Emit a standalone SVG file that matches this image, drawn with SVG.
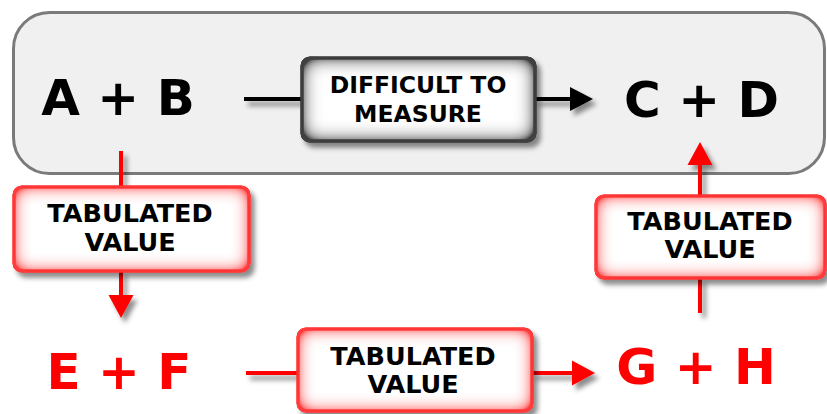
<svg xmlns="http://www.w3.org/2000/svg" width="827" height="414" viewBox="0 0 827 414">
  <style>
    .big { font-family: "DejaVu Sans", Verdana, sans-serif; font-weight: bold; font-size: 50px; text-anchor: middle; }
    .lbl { font-family: "DejaVu Sans", Verdana, sans-serif; font-weight: bold; font-size: 25.5px; text-anchor: middle; fill: #000; }
    .lbl-sm { font-size: 23.5px; }
    .red-box { fill: #ffffff; stroke: #ff0000; stroke-width: 3; }
    .gray-box { fill: #ffffff; stroke: #000000; stroke-width: 3; }
    .wire-red { stroke: #ff0000; stroke-width: 4; fill: none; }
    .wire-black { stroke: #000000; stroke-width: 4; fill: none; }
  </style>
  <defs>
    <filter id="shadow" x="-20%" y="-20%" width="140%" height="160%">
      <feDropShadow dx="4" dy="5" stdDeviation="2.5" flood-color="#000" flood-opacity="0.45"/>
    </filter>
    <!-- inner glow: colour fading in from the border towards a white centre -->
    <filter id="glowRed" x="-5%" y="-5%" width="110%" height="110%">
      <feGaussianBlur in="SourceAlpha" stdDeviation="9" result="b"/>
      <feComposite in="SourceAlpha" in2="b" operator="out" result="edge"/>
      <feComponentTransfer in="edge" result="edge2">
        <feFuncA type="linear" slope="1.9"/>
      </feComponentTransfer>
      <feFlood flood-color="#ff3a3a"/>
      <feComposite in2="edge2" operator="in" result="col"/>
      <feMerge><feMergeNode in="SourceGraphic"/><feMergeNode in="col"/></feMerge>
    </filter>
    <filter id="glowGray" x="-5%" y="-5%" width="110%" height="110%">
      <feGaussianBlur in="SourceAlpha" stdDeviation="10" result="b"/>
      <feComposite in="SourceAlpha" in2="b" operator="out" result="edge"/>
      <feComponentTransfer in="edge" result="edge2">
        <feFuncA type="linear" slope="2.0"/>
      </feComponentTransfer>
      <feFlood flood-color="#404040"/>
      <feComposite in2="edge2" operator="in" result="col"/>
      <feMerge><feMergeNode in="SourceGraphic"/><feMergeNode in="col"/></feMerge>
    </filter>
    <marker id="headRed" markerUnits="userSpaceOnUse" markerWidth="24" markerHeight="26" refX="12" refY="12.5" orient="auto" overflow="visible">
      <path d="M0,0 L23,12.5 L0,25 z" fill="#ff0000"/>
    </marker>
    <marker id="headBlack" markerUnits="userSpaceOnUse" markerWidth="24" markerHeight="26" refX="12" refY="12" orient="auto" overflow="visible">
      <path d="M0,0 L23,12 L0,24 z" fill="#000000"/>
    </marker>
  </defs>

  <!-- container for the directly unmeasurable reaction -->
  <rect id="container" x="13.5" y="12.5" width="811" height="161" rx="36" fill="#f0f0f0" stroke="#7a7a7a" stroke-width="3"/>

  <!-- connectors -->
  <g id="connectors" filter="url(#shadow)">
    <line class="wire-black" x1="244" y1="99" x2="302" y2="99"/>
    <line class="wire-black" x1="535" y1="99" x2="582" y2="99" marker-end="url(#headBlack)"/>
    <line class="wire-red" x1="121" y1="151" x2="121" y2="187"/>
    <line class="wire-red" x1="121" y1="271" x2="121" y2="307" marker-end="url(#headRed)"/>
    <line class="wire-red" x1="246" y1="373" x2="298" y2="373"/>
    <line class="wire-red" x1="532" y1="373" x2="584" y2="373" marker-end="url(#headRed)"/>
    <line class="wire-red" x1="700" y1="313" x2="700" y2="278"/>
    <line class="wire-red" x1="700" y1="196" x2="700" y2="153" marker-end="url(#headRed)"/>
  </g>

  <!-- nodes -->
  <g id="node-ab">
    <text class="big" x="118" y="115" fill="#000">A + B</text>
  </g>
  <g id="node-cd">
    <text class="big" x="701.5" y="117" fill="#000">C + D</text>
  </g>
  <g id="node-ef">
    <text class="big" x="119" y="389" fill="#ff0000">E + F</text>
  </g>
  <g id="node-gh">
    <text class="big" x="696" y="384" fill="#ff0000">G + H</text>
  </g>

  <g id="node-measure">
    <g filter="url(#shadow)">
      <rect class="gray-box" x="302" y="58" width="233" height="83" rx="8" filter="url(#glowGray)"/>
    </g>
    <text class="lbl lbl-sm" x="418" y="93">DIFFICULT TO</text>
    <text class="lbl lbl-sm" x="418" y="122">MEASURE</text>
  </g>

  <g id="node-tab1">
    <g filter="url(#shadow)">
      <rect class="red-box" x="14" y="187" width="235" height="84" rx="8" filter="url(#glowRed)"/>
    </g>
    <text class="lbl" x="130" y="222">TABULATED</text>
    <text class="lbl" x="130" y="251">VALUE</text>
  </g>

  <g id="node-tab2">
    <g filter="url(#shadow)">
      <rect class="red-box" x="596" y="196" width="229" height="82" rx="8" filter="url(#glowRed)"/>
    </g>
    <text class="lbl" x="710" y="230">TABULATED</text>
    <text class="lbl" x="710" y="258">VALUE</text>
  </g>

  <g id="node-tab3">
    <g filter="url(#shadow)">
      <rect class="red-box" x="298" y="329" width="234" height="82" rx="8" filter="url(#glowRed)"/>
    </g>
    <text class="lbl" x="413" y="365">TABULATED</text>
    <text class="lbl" x="413" y="393">VALUE</text>
  </g>
</svg>
